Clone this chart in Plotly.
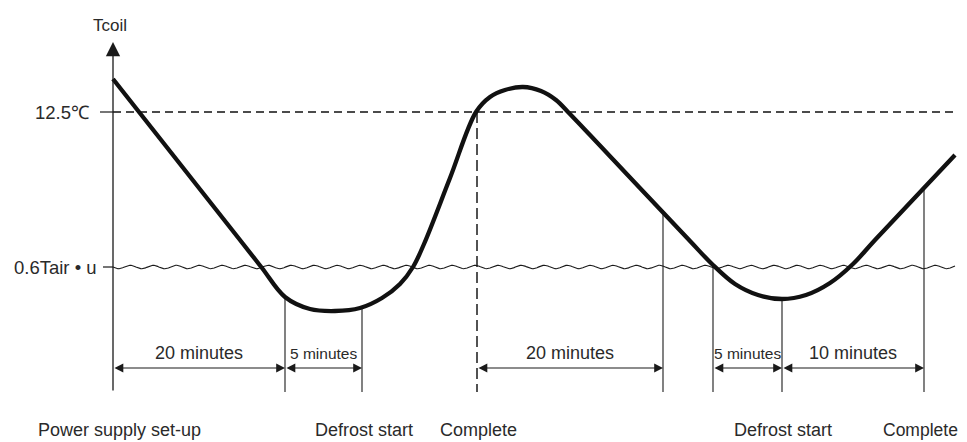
import numpy as np
import plotly.graph_objects as go

# ---- data (diagram units: x = time position, y = vertical position, top-down) ----
axis_x = 113
axis_top = 42
base_y = 392
level_labels = ["12.5℃", "0.6Tair • u"]
level_y = [112, 267]
line_end_x = 955

# coil temperature curve
curve_x = [113, 240, 262, 285, 310, 335, 360, 382, 400, 413, 424, 450, 476,
           490, 505, 523, 541, 556, 568, 590, 690, 713, 735, 758, 782, 806, 830,
           853, 875, 955]
curve_y = [79, 240, 268, 297, 309, 311, 308, 298, 284, 267, 244, 178, 112,
           97, 90, 87, 91, 100, 112, 135, 241, 265, 284, 295, 299, 295, 283,
           264, 240, 155]

# event markers (vertical lines)
mark_x = [285, 362, 663, 713, 782, 924]
mark_top = [297, 308, 210, 265, 299, 186]
complete_x = 477

# durations
dim_y = 368
dim_start = [113, 285, 477, 713, 782]
dim_end = [285, 362, 663, 782, 924]
dim_labels = ["20 minutes", "5 minutes", "20 minutes", "5 minutes", "10 minutes"]
dim_font = [18, 15.5, 18, 15.5, 18]
dim_label_y = 353

events = ["Power supply set-up", "Defrost start", "Complete", "Defrost start", "Complete"]
event_x = [119, 364, 478, 783, 920]
event_font = [18, 18, 18, 18, 17.5]
event_y = 430

INK = "#1a1a1a"
TXT = "#2a2a2a"
FONT = "Liberation Sans, Arial, sans-serif"
PAGE_OFFSET = 8  # default body margin of the html page

fig = go.Figure()

# 12.5 dashed reference
fig.add_trace(go.Scatter(x=[axis_x, line_end_x], y=[level_y[0]] * 2, mode="lines",
                         line=dict(color="#111", width=1.4, dash="8px,5px"), hoverinfo="skip"))
# wavy threshold line (line style)
wx = np.linspace(axis_x, line_end_x, 700)
wy = level_y[1] + 1.7 * np.sin((wx - axis_x) / 23.0 * 2 * np.pi)
fig.add_trace(go.Scatter(x=wx, y=wy, mode="lines", line=dict(color=INK, width=1.1), hoverinfo="skip"))

# tick marks
for ly, x0 in zip(level_y, [100, 103]):
    fig.add_trace(go.Scatter(x=[x0, axis_x], y=[ly, ly], mode="lines",
                             line=dict(color=INK, width=1.2), hoverinfo="skip"))

# vertical event markers
for mx, mt in zip(mark_x, mark_top):
    fig.add_trace(go.Scatter(x=[mx, mx], y=[mt, base_y], mode="lines",
                             line=dict(color=INK, width=1.1), hoverinfo="skip"))
fig.add_trace(go.Scatter(x=[complete_x, complete_x], y=[level_y[0], base_y], mode="lines",
                         line=dict(color=INK, width=1.5, dash="11px,5px"), hoverinfo="skip"))

# curve
fig.add_trace(go.Scatter(x=curve_x, y=curve_y, mode="lines",
                         line=dict(color="#111", width=4.3, shape="spline", smoothing=1.0),
                         hoverinfo="skip"))

annotations = []
# y axis with arrow
annotations.append(dict(x=axis_x, y=axis_top, ax=axis_x, ay=base_y, xref="x", yref="y",
                        axref="x", ayref="y", text="", showarrow=True, arrowhead=2,
                        arrowsize=2.2, arrowwidth=1.3, arrowcolor=INK, standoff=0))
annotations.append(dict(x=axis_x - 3, y=25, xref="x", yref="y", text="Tcoil", showarrow=False,
                        font=dict(family=FONT, size=17, color=TXT)))
for lab, ly, lx in zip(level_labels, level_y, [91, 99]):
    annotations.append(dict(x=lx, y=ly, xref="x", yref="y", text=lab,
                            showarrow=False, xanchor="right",
                            font=dict(family=FONT, size=18.5, color=TXT)))

# dimension arrows
for s, e, lab, fs in zip(dim_start, dim_end, dim_labels, dim_font):
    annotations.append(dict(x=e, y=dim_y, ax=s, ay=dim_y, xref="x", yref="y", axref="x",
                            ayref="y", text="", showarrow=True, arrowside="end+start",
                            arrowhead=2, startarrowhead=2, arrowsize=1.6, startarrowsize=1.6,
                            arrowwidth=1.1, arrowcolor=INK, standoff=0, startstandoff=0))
    annotations.append(dict(x=(s + e) / 2, y=dim_label_y, xref="x", yref="y", text=lab,
                            showarrow=False, font=dict(family=FONT, size=fs, color=TXT)))

for ev, ex, fs in zip(events, event_x, event_font):
    annotations.append(dict(x=ex, y=event_y, xref="x", yref="y", text=ev, showarrow=False,
                            font=dict(family=FONT, size=fs, color=TXT)))

fig.update_layout(
    width=967, height=442,
    margin=dict(l=0, r=0, t=0, b=0),
    paper_bgcolor="white", plot_bgcolor="white",
    showlegend=False,
    xaxis=dict(range=[PAGE_OFFSET, 967 + PAGE_OFFSET], visible=False, fixedrange=True),
    yaxis=dict(range=[442 + PAGE_OFFSET, PAGE_OFFSET], visible=False, fixedrange=True),
    annotations=annotations,
)

fig.write_html("out.html")
